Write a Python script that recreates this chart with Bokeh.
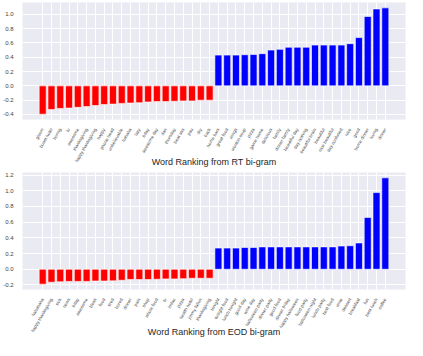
import math
from bokeh.plotting import figure
from bokeh.models import FactorRange, Range1d, FixedTicker, ColumnDataSource, NumeralTickFormatter
from bokeh.layouts import column
from bokeh.embed import file_html
from bokeh.resources import INLINE

rt_words = ["gloom", "boast hotel", "boring", "tv", "awesome", "thanksgiving",
            "happy thanksgiving", "happy", "phone head", "unbelievable", "hahaha",
            "lazy", "bday", "awesome day", "dan", "thursday", "beat ass", "pau", "dry", "back",
            "home bars", "great food", "wings", "wonton soup", "pizza", "game home",
            "delicious", "family", "dinner family", "beautiful day", "day nothing",
            "beautiful brain", "beautiful", "nice beautiful", "day confused", "nice",
            "good", "home dinner", "loving", "dinner"]
rt_scores = [-0.396, -0.33, -0.315, -0.31, -0.30, -0.29, -0.275, -0.26, -0.255, -0.245,
             -0.24, -0.235, -0.225, -0.22, -0.22, -0.215, -0.21, -0.21, -0.20, -0.20,
             0.43, 0.43, 0.43, 0.435, 0.44, 0.45, 0.50, 0.51, 0.54, 0.54,
             0.54, 0.57, 0.57, 0.57, 0.57, 0.59, 0.675, 0.97, 1.075, 1.09]

eod_words = ["hahahaha", "happy thanksgiving", "sick", "news", "bday", "awesome", "bless",
             "food", "tired", "bored", "dinner", "pain", "shop", "whole food", "tv", "lmfao",
             "pizza", "health hotel", "jimmy fallon", "thanksgiving",
             "tonight", "tonight food", "lunch tonight", "good day", "wine day",
             "halloween party", "dinner party", "good food", "dinner friday",
             "happy halloween", "food party", "halloween night", "lunch party",
             "best food", "wine", "dessert", "breakfast", "fun", "best lunch", "coffee"]
eod_scores = [-0.19, -0.165, -0.16, -0.155, -0.155, -0.155, -0.15, -0.15, -0.148, -0.14,
              -0.13, -0.13, -0.13, -0.127, -0.123, -0.123, -0.12, -0.115, -0.115, -0.115,
              0.27, 0.27, 0.27, 0.277, 0.277, 0.285, 0.285, 0.285, 0.285, 0.285,
              0.285, 0.285, 0.285, 0.285, 0.296, 0.30, 0.335, 0.66, 0.977, 1.165]

rt_ticks = [-0.4, -0.2, 0.0, 0.2, 0.4, 0.6, 0.8, 1.0]
eod_ticks = [-0.2, 0.0, 0.2, 0.4, 0.6, 0.8, 1.0, 1.2]

FONT = "Liberation Sans"


def make(words, scores, ymin, ymax, ticks, label):
    colors = ["#FF0000" if s < 0 else "#0000FF" for s in scores]
    src = ColumnDataSource(dict(x=words, top=scores, color=colors))
    p = figure(x_range=FactorRange(factors=words, range_padding=1.8,
                                   range_padding_units="absolute"),
               y_range=Range1d(ymin, ymax), width=407, height=170,
               output_backend="svg", toolbar_location=None,
               min_border_left=18, min_border_right=2, min_border_top=2,
               min_border_bottom=0)
    p.vbar(x="x", top="top", bottom=0, width=0.8, fill_color="color",
           line_color="white", line_width=0.6, source=src)
    p.background_fill_color = "#EAEAF2"
    p.border_fill_color = "white"
    p.outline_line_color = None
    p.xgrid.grid_line_color = "white"
    p.ygrid.grid_line_color = "white"
    p.xgrid.grid_line_width = 1
    p.ygrid.grid_line_width = 1
    p.axis.axis_line_color = None
    p.axis.major_tick_line_color = None
    p.axis.minor_tick_line_color = None
    p.yaxis.ticker = FixedTicker(ticks=ticks)
    p.yaxis.formatter = NumeralTickFormatter(format="0.0")
    p.yaxis.major_label_text_font_size = "6px"
    p.yaxis.major_label_text_color = "#444444"
    p.yaxis.major_label_text_font = FONT
    p.yaxis.major_label_standoff = 3
    p.xaxis.major_label_orientation = math.pi / 3
    p.xaxis.major_label_text_font_size = "4.5px"
    p.xaxis.major_label_text_color = "#444444"
    p.xaxis.major_label_text_font = FONT
    p.xaxis.major_label_standoff = 3
    p.xaxis.axis_label = label
    p.xaxis.axis_label_text_font_size = "9px"
    p.xaxis.axis_label_text_font_style = "normal"
    p.xaxis.axis_label_text_font = FONT
    p.xaxis.axis_label_text_color = "#262626"
    p.xaxis.axis_label_standoff = -10
    return p


p1 = make(rt_words, rt_scores, -0.47, 1.165, rt_ticks, "Word Ranking from RT bi-gram")
p2 = make(eod_words, eod_scores, -0.258, 1.233, eod_ticks, "Word Ranking from EOD bi-gram")

layout = column(p1, p2, spacing=0)
open("out.html", "w").write(file_html(layout, INLINE))
